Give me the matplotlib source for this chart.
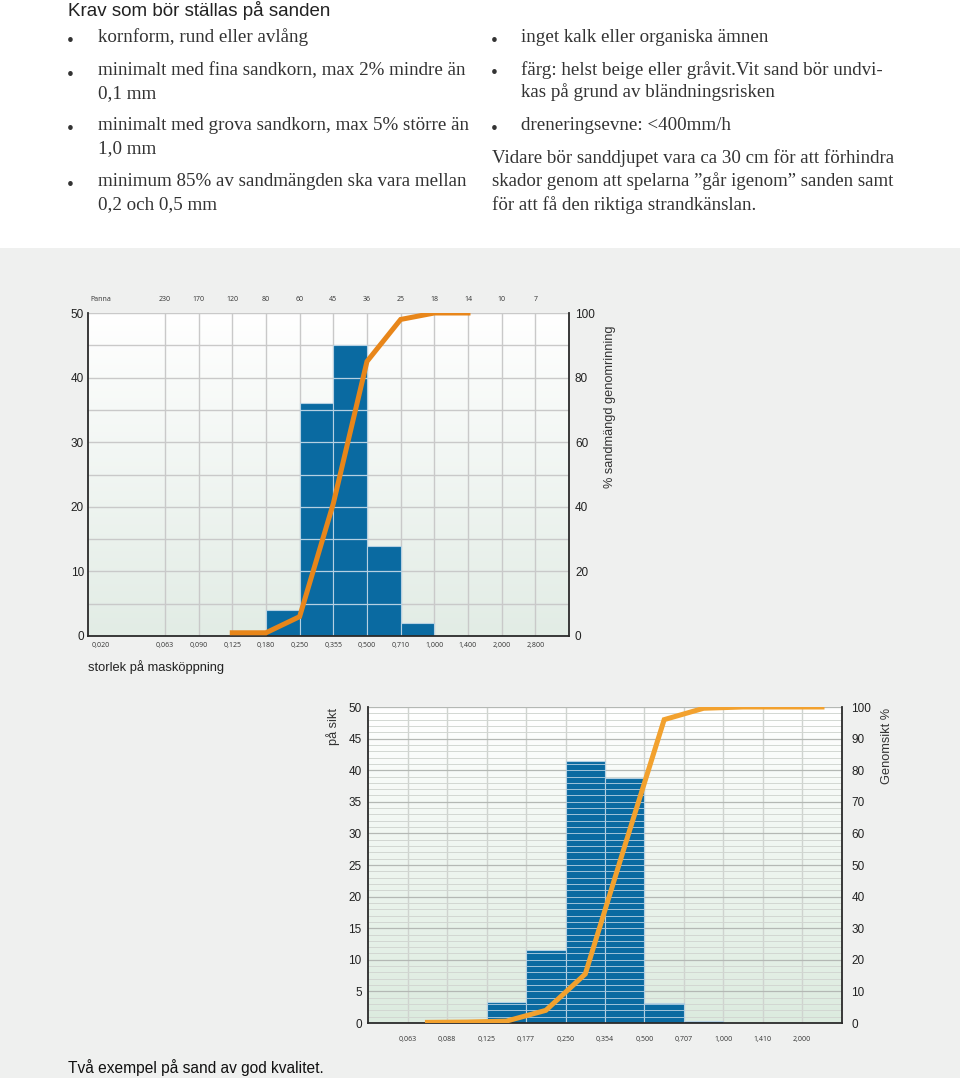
import numpy as np
import matplotlib.pyplot as plt
from matplotlib.colors import LinearSegmentedColormap
from matplotlib.patches import Rectangle

W, H = 960, 1078

# chart 1: sieve analysis (bars = % on sieve, line = cumulative passing)
top_labels1 = ['Panna', '230', '170', '120', '80', '60', '45', '36', '25', '18', '14', '10', '7']
bottom_labels1 = ['0,020', '0,063', '0,090', '0,125', '0,180', '0,250', '0,355',
                  '0,500', '0,710', '1,000', '1,400', '2,000', '2,800']
bars1_start = [4, 5, 6, 7, 8]
bars1_pct = [4, 36, 45, 14, 2]
cum1_x = [3, 4, 5, 6, 7, 8, 9, 10]
cum1_pct = [1, 1, 6, 41, 85, 98, 100, 100]

# chart 2
labels2 = ['0,063', '0,088', '0,125', '0,177', '0,250', '0,354', '0,500',
           '0,707', '1,000', '1,410', '2,000']
bars2_start = [2, 3, 4, 5, 6, 7]
bars2_pct = [3.4, 11.5, 41.4, 38.8, 3.2, 0.3]
cum2_x = [0.5, 1.5, 2.5, 3.5, 4.5, 5.5, 6.5, 7.5, 8.5, 9.5, 10.5]
cum2_pct = [0.2, 0.3, 0.6, 4, 15.5, 56, 96, 99.6, 100, 100, 100]

BLUE = '#0a6aa1'
BG = '#eff0ef'
SERIF = 'Liberation Serif'
SANS = 'Liberation Sans'
SMALL = 'Open Sans'

fig = plt.figure(figsize=(W / 100, H / 100), dpi=100, facecolor=BG)
fig.patches.append(Rectangle((0, 1 - 248 / H), 1, 248 / H, transform=fig.transFigure,
                             facecolor='white', edgecolor='none', zorder=-1))


def ftext(x, y, s, **kw):
    kw.setdefault('va', 'center')
    fig.text(x / W, 1 - y / H, s, **kw)


# ---- top text block ----
ftext(68, 10, 'Krav som bör ställas på sanden', fontsize=13.5, family=SANS, color='#222')
left_items = [
    (37, ['kornform, rund eller avlång']),
    (71, ['minimalt med fina sandkorn, max 2% mindre än', '0,1 mm']),
    (126, ['minimalt med grova sandkorn, max 5% större än', '1,0 mm']),
    (182, ['minimum 85% av sandmängden ska vara mellan', '0,2 och 0,5 mm']),
]
right_items = [
    (37, ['inget kalk eller organiska ämnen']),
    (70, ['färg: helst beige eller gråvit.Vit sand bör undvi-', 'kas på grund av bländningsrisken']),
    (126, ['dreneringsevne: <400mm/h']),
]
for items, bx, tx in [(left_items, 67, 98), (right_items, 491, 521)]:
    for y, lines in items:
        ftext(bx, y + 4, '•', fontsize=14, family=SERIF, color='#333')
        for k, line in enumerate(lines):
            ftext(tx, y + k * 22.5, line, fontsize=13.7, family=SERIF, color='#333')
para = ['Vidare bör sanddjupet vara ca 30 cm för att förhindra',
        'skador genom att spelarna ”går igenom” sanden samt',
        'för att få den riktiga strandkänslan.']
for k, line in enumerate(para):
    ftext(492, 158 + k * 23.5, line, fontsize=13.6, family=SERIF, color='#333')


def gradient(ax, x0, x1, top_col, bot_col):
    cmap = LinearSegmentedColormap.from_list('g', [bot_col, top_col])
    ax.imshow(np.linspace(0, 1, 256)[:, None], extent=(x0, x1, 0, 50), origin='lower',
              aspect='auto', cmap=cmap, zorder=0)


def style_axes(ax, tw, ypad, rpad):
    for s in ['top', 'right']:
        ax.spines[s].set_visible(False)
    for s in ['left', 'bottom']:
        ax.spines[s].set_color('#2a2a2a')
        ax.spines[s].set_linewidth(1.3)
    for s in ['top', 'left', 'bottom']:
        tw.spines[s].set_visible(False)
    tw.spines['right'].set_color('#2a2a2a')
    tw.spines['right'].set_linewidth(1.3)
    ax.tick_params(axis='y', length=0, pad=ypad, labelsize=8.5, labelcolor='#222')
    tw.tick_params(axis='y', length=0, pad=rpad, labelsize=8.5, labelcolor='#222')
    for lab in ax.get_yticklabels() + tw.get_yticklabels():
        lab.set_family(SANS)


# ---- chart 1 ----
ax1 = fig.add_axes([88 / W, 1 - 636 / H, 481 / W, 323 / H])
x0, x1 = -1.285, 13
gradient(ax1, x0, x1, '#ffffff', '#e2ece5')
ax1.vlines(np.arange(1, 13), 0, 50, color='#c9c9c9', lw=1, zorder=1)
ax1.hlines(np.arange(5, 51, 5), x0, x1, color='#c9c9c9', lw=1, zorder=1)
ax1.bar(bars1_start, bars1_pct, width=1, align='edge', color=BLUE,
        edgecolor='#b5d0e2', lw=0.8, zorder=2)
for xs, h in zip(bars1_start, bars1_pct):
    lv = np.arange(5, h, 5)
    ax1.hlines(lv, xs, xs + 1, color='#b5d0e2', lw=0.9, zorder=3)
ax1.set_xlim(x0, x1)
ax1.set_ylim(0, 50)
ax1.set_yticks(np.arange(0, 51, 10))
pos1 = [-0.9] + list(range(1, 13))
ax1.set_xticks(pos1, bottom_labels1)
ax1.tick_params(axis='x', length=0, pad=4, labelsize=5, labelcolor='#333')
for lab in ax1.get_xticklabels():
    lab.set_family(SMALL)
sec1 = ax1.secondary_xaxis('top')
sec1.set_xticks(pos1, top_labels1)
sec1.tick_params(length=0, pad=7, labelsize=5, labelcolor='#333')
sec1.spines['top'].set_visible(False)
for lab in sec1.get_xticklabels():
    lab.set_family(SMALL)
tw1 = ax1.twinx()
tw1.plot(cum1_x, cum1_pct, color='#e8861a', lw=3.6, solid_joinstyle='miter', zorder=5)
tw1.set_ylim(0, 100)
tw1.set_yticks(np.arange(0, 101, 20))
style_axes(ax1, tw1, 3, 4.3)

ftext(610, 325, '% sandmängd genomrinning', fontsize=9.2, family=SANS, color='#333',
      rotation=90, ha='center', va='top')
ftext(88, 667, 'storlek på masköppning', fontsize=9.3, family=SANS, color='#222')

# ---- chart 2 ----
ax2 = fig.add_axes([368.3 / W, 1 - 1023 / H, 473.4 / W, 316 / H])
x0, x1 = -1, 11
gradient(ax2, x0, x1, '#ffffff', '#dcebdf')
ax2.vlines(np.arange(0, 11), 0, 50, color='#cfd3cf', lw=1, zorder=1)
ax2.hlines(np.arange(1, 51, 1), x0, x1, color='#d2d7d2', lw=0.7, zorder=1)
ax2.hlines(np.arange(5, 51, 5), x0, x1, color='#b4b8b4', lw=0.9, zorder=1)
ax2.bar(bars2_start, bars2_pct, width=1, align='edge', color=BLUE,
        edgecolor='#b5d0e2', lw=0.8, zorder=2)
for xs, h in zip(bars2_start, bars2_pct):
    lv = np.arange(1, h, 1)
    ax2.hlines(lv, xs, xs + 1, color='#9fc3da', lw=0.7, zorder=3)
ax2.set_xlim(x0, x1)
ax2.set_ylim(0, 50)
ax2.set_yticks(np.arange(0, 51, 5))
ax2.set_xticks(range(11), labels2)
ax2.tick_params(axis='x', length=0, pad=9, labelsize=5, labelcolor='#333')
for lab in ax2.get_xticklabels():
    lab.set_family(SMALL)
tw2 = ax2.twinx()
tw2.plot(cum2_x, cum2_pct, color='#f2a12e', lw=3.6, solid_joinstyle='miter', zorder=5)
tw2.set_ylim(0, 100)
tw2.set_yticks(np.arange(0, 101, 10))
style_axes(ax2, tw2, 4.7, 7)

ftext(333, 708, 'på sikt', fontsize=9.2, family=SANS, color='#333',
      rotation=90, ha='center', va='top')
ftext(887, 708, 'Genomsikt %', fontsize=9.2, family=SANS, color='#333',
      rotation=90, ha='center', va='top')
ftext(68, 1068, 'Två exempel på sand av god kvalitet.', fontsize=11.2, family=SANS, color='#111')

fig.savefig('out.png', dpi=100, facecolor=BG)
